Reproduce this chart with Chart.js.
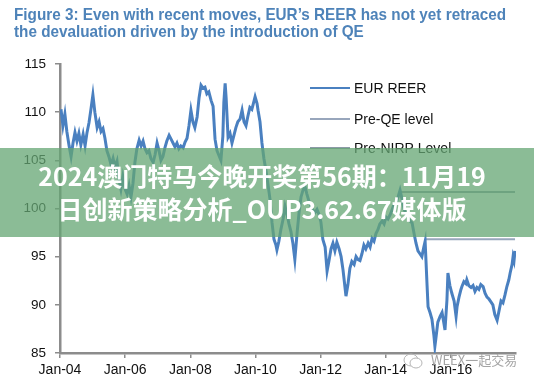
<!DOCTYPE html>
<html>
<head>
<meta charset="utf-8">
<script src="https://cdn.jsdelivr.net/npm/chart.js@4.4.1/dist/chart.umd.min.js"></script>
<style>
  html, body { margin: 0; padding: 0; background: #fff; }
  #wrap { position: relative; width: 534px; height: 386px; overflow: hidden; }
  #reerChart { position: absolute; left: 0; top: 0; }
  .title { position: absolute; left: 14px; top: 7px; color: #4e83b9; font: bold 17px "Liberation Sans", Arial, sans-serif; line-height: 16.5px; white-space: nowrap; }
  .title span { display: inline-block; transform-origin: 0 0; }
  .band { position: absolute; left: 0; top: 148px; width: 534px; height: 89px; background: rgba(100, 165, 115, 0.75);
          color: #fff; font: bold 25px "Noto Sans CJK SC", sans-serif; line-height: 33px; text-align: center;
          padding-top: 11px; box-sizing: border-box; padding-right: 10px; white-space: nowrap; }
  .mark { position: absolute; left: 403px; top: 350px; color: #a5a5a5; font: 13px "Noto Sans CJK SC", sans-serif; white-space: nowrap; }
  .mark svg { vertical-align: middle; margin-right: 8px; }
</style>
</head>
<body>
<div id="wrap">
  <canvas id="reerChart" width="534" height="386"></canvas>
  <div class="title"><span id="t1">Figure 3: Even with recent moves, EUR’s REER has not yet retraced</span><br><span id="t2">the devaluation driven by the introduction of QE</span></div>
  <div class="band">2024澳门特马今晚开奖第56期：11月19<br>日创新策略分析_OUP3.62.67媒体版</div>
  <div class="mark"><svg width="20" height="18" viewBox="0 0 20 18"><ellipse cx="8" cy="8" rx="7" ry="6" fill="none" stroke="#b5b5b5" stroke-width="1"/><ellipse cx="13" cy="11" rx="6" ry="5" fill="#fff" stroke="#b5b5b5" stroke-width="1"/></svg>WEEX一起交易</div>
</div>
<script>
// EUR REER (decimal years)
var reerYears = [
  2004.03, 2004.09, 2004.15, 2004.21, 2004.28, 2004.34, 2004.40, 2004.46, 2004.52, 2004.58, 2004.64, 2004.71, 2004.77, 2004.83, 2004.89, 2004.95,
  2005.01, 2005.07, 2005.14, 2005.20, 2005.26, 2005.32, 2005.38, 2005.44, 2005.50, 2005.57, 2005.63, 2005.69, 2005.75, 2005.81, 2005.87, 2005.93,
  2006.00, 2006.06, 2006.12, 2006.18, 2006.24, 2006.30, 2006.36, 2006.43, 2006.49, 2006.55, 2006.61, 2006.67, 2006.73, 2006.79, 2006.86, 2006.92, 2006.98,
  2007.04, 2007.10, 2007.16, 2007.22, 2007.28, 2007.35, 2007.41, 2007.47, 2007.53, 2007.59, 2007.65, 2007.71, 2007.78, 2007.84, 2007.90, 2007.96,
  2008.02, 2008.08, 2008.14, 2008.21, 2008.27, 2008.33, 2008.39, 2008.45, 2008.51, 2008.57, 2008.64, 2008.70, 2008.76, 2008.82, 2008.88, 2008.94,
  2009.00, 2009.03, 2009.07, 2009.10, 2009.16, 2009.22, 2009.28, 2009.34, 2009.40, 2009.46, 2009.53, 2009.59, 2009.65, 2009.71, 2009.77, 2009.83, 2009.89, 2009.96, 2009.99,
  2010.05, 2010.08, 2010.14, 2010.20, 2010.26, 2010.32, 2010.39, 2010.45, 2010.51, 2010.57, 2010.63, 2010.66, 2010.72, 2010.78, 2010.85, 2010.91, 2010.97,
  2011.03, 2011.09, 2011.15, 2011.21, 2011.28, 2011.34, 2011.40, 2011.46, 2011.52, 2011.58, 2011.64, 2011.71, 2011.77, 2011.83, 2011.89, 2011.95,
  2012.01, 2012.07, 2012.14, 2012.20, 2012.26, 2012.32, 2012.38, 2012.44, 2012.50, 2012.57, 2012.63, 2012.69, 2012.75, 2012.78, 2012.84, 2012.90, 2012.96,
  2013.03, 2013.09, 2013.15, 2013.21, 2013.27, 2013.33, 2013.39, 2013.46, 2013.52, 2013.58, 2013.64, 2013.70, 2013.76, 2013.82, 2013.89, 2013.95,
  2014.01, 2014.07, 2014.13, 2014.19, 2014.25, 2014.32, 2014.38, 2014.44, 2014.50, 2014.56, 2014.62, 2014.68, 2014.75, 2014.81, 2014.87, 2014.93, 2014.99,
  2015.05, 2015.11, 2015.17, 2015.21, 2015.27, 2015.30, 2015.36, 2015.42, 2015.48, 2015.51, 2015.54, 2015.60, 2015.67, 2015.73, 2015.79, 2015.82, 2015.88, 2015.91, 2015.97,
  2016.03, 2016.10, 2016.16, 2016.19, 2016.25, 2016.31, 2016.34, 2016.40, 2016.46, 2016.49, 2016.55, 2016.62, 2016.68, 2016.74, 2016.80, 2016.86, 2016.92, 2016.99,
  2017.05, 2017.11, 2017.17, 2017.23, 2017.29, 2017.35, 2017.42, 2017.48, 2017.54, 2017.60, 2017.66, 2017.72, 2017.78, 2017.82, 2017.88, 2017.91, 2017.94, 2017.97
];
var reerValues = [
  110.3, 108.6, 109.8, 108.0, 106.5, 105.4, 106.8, 107.9, 107.0, 107.8, 106.6, 107.7, 106.5, 107.9, 108.9, 110.3,
  111.8, 110.0, 108.4, 109.0, 108.0, 108.3, 107.3, 106.0, 105.4, 104.5, 105.2, 104.3, 104.9, 103.0, 102.0, 103.3,
  102.0, 101.5, 102.4, 101.2, 102.6, 104.8, 106.2, 107.1, 106.5, 107.0, 106.2, 105.8, 106.0, 105.2, 104.8, 105.6, 106.8,
  106.0, 105.0, 105.4, 106.3, 107.0, 107.6, 107.2, 106.8, 106.4, 106.8, 106.2, 106.5, 106.3, 106.9, 107.3, 108.6,
  110.2, 109.0, 108.4, 109.5, 111.5, 112.8, 112.5, 112.6, 111.9, 112.1, 111.2, 110.6, 107.2, 106.0, 105.5, 105.0,
  107.5, 111.0, 113.0, 111.5, 107.4, 107.8, 106.8, 107.6, 108.4, 109.0, 109.3, 110.2, 109.0, 108.6, 109.6, 110.5, 110.3, 111.2, 111.6,
  110.9, 110.2, 109.0, 106.8, 105.2, 104.0, 102.4, 100.9, 98.5, 96.8, 96.2, 95.7, 96.6, 97.8, 98.9, 100.2, 99.4,
  98.4, 97.6, 96.4, 94.7, 97.5, 99.6, 101.2, 101.9, 102.3, 101.5, 100.8, 100.2, 99.8, 99.6, 99.9, 99.4,
  98.6, 96.8, 96.0, 93.5, 94.6, 95.8, 96.4, 95.6, 96.5, 95.8, 95.0, 93.6, 91.8, 90.9, 92.1, 93.8, 94.5,
  94.2, 95.0, 94.7, 94.6, 95.3, 96.2, 95.8, 96.4, 96.0, 96.9, 96.6, 97.4, 97.8, 98.4, 98.7, 98.4,
  99.1, 98.9, 99.3, 99.8, 100.4, 100.6, 101.2, 101.9, 101.0, 100.0, 99.4, 99.2, 98.7, 98.5, 97.4, 96.4, 95.6,
  95.3, 95.0, 96.0, 96.6, 92.0, 89.8, 89.2, 88.5, 86.8, 85.7, 86.5, 88.2, 88.8, 89.2, 88.0, 87.4, 90.5, 93.3, 92.0,
  91.2, 90.4, 88.8, 89.8, 90.8, 91.6, 91.9, 92.4, 92.2, 92.6, 92.0, 91.8, 92.0, 91.4, 91.8, 91.6, 92.1, 91.9,
  91.2, 90.8, 90.6, 90.3, 90.0, 89.0, 88.4, 89.4, 90.4, 90.2, 91.0, 91.9, 92.6, 93.3, 94.2, 95.0, 94.6, 95.6
];

// reference levels
var preQeLevel = 96.8;
var preQeYears = [2015.21, 2017.97];
var preNirpLevel = 101.7;
var preNirpYears = [2014.44, 2017.97];

var xTickYears = [2004, 2006, 2008, 2010, 2012, 2014, 2016];
var yTickValues = [85, 90, 95, 100, 105, 110, 115];
var seriesNames = ['EUR REER', 'Pre-QE level', 'Pre-NIRP Level'];
var seriesColors = ['#4a80c0', '#98a6bc', '#8c9aa6'];

var axisFont = { family: '"Liberation Sans", Arial, sans-serif', size: 14 };

//legend drawn inside the plot like the original
var lineLegend = {
  id: 'lineLegend',
  afterDraw: function(chart) {
    var ctx = chart.ctx;
    var rows = [88, 119, 148];
    ctx.save();
    chart.data.datasets.forEach(function(ds, i) {
      ctx.strokeStyle = ds.borderColor;
      ctx.lineWidth = 2;
      ctx.beginPath();
      ctx.moveTo(310, rows[i]);
      ctx.lineTo(350, rows[i]);
      ctx.stroke();
      ctx.fillStyle = '#111';
      ctx.font = '14px "Liberation Sans", Arial, sans-serif';
      ctx.textBaseline = 'middle';
      ctx.fillText(ds.label, 354, rows[i] + 1);
    });
    ctx.restore();
  }
};

var chart = new Chart(document.getElementById('reerChart'), {
  type: 'line',
  data: {
    datasets: [
      {
        label: seriesNames[0],
        data: reerYears.map(function(y, i) { return { x: y, y: reerValues[i] }; }),
        borderColor: seriesColors[0], borderWidth: 3, pointRadius: 0, tension: 0
      },
      {
        label: seriesNames[1],
        data: preQeYears.map(function(y) { return { x: y, y: preQeLevel }; }),
        borderColor: seriesColors[1], borderWidth: 2, pointRadius: 0
      },
      {
        label: seriesNames[2],
        data: preNirpYears.map(function(y) { return { x: y, y: preNirpLevel }; }),
        borderColor: seriesColors[2], borderWidth: 2, pointRadius: 0
      }
    ]
  },
  options: {
    responsive: false,
    animation: false,
    devicePixelRatio: 1,
    layout: { padding: { left: 0, right: 18, top: 64, bottom: 0 } },
    plugins: { legend: { display: false }, tooltip: { enabled: false }, title: { display: false } },
    scales: {
      x: {
        type: 'linear', min: 2004, max: 2018,
        afterBuildTicks: function(s) { s.ticks = xTickYears.map(function(v) { return { value: v }; }); },
        afterFit: function(s) { s.height = 33; },
        ticks: {
          autoSkip: false, maxRotation: 0, padding: 4, color: '#111', font: axisFont,
          callback: function(v) { return 'Jan-' + String(v % 100).padStart(2, '0'); }
        },
        grid: { drawOnChartArea: false, tickLength: 5, color: '#8c8c8c', lineWidth: 1.5 },
        border: { color: '#8c8c8c', width: 2.5 }
      },
      y: {
        min: 85, max: 115,
        afterBuildTicks: function(s) { s.ticks = yTickValues.map(function(v) { return { value: v }; }); },
        afterFit: function(s) { s.width = 60; },
        ticks: { padding: 9, color: '#111', font: { family: axisFont.family, size: 13.5 } },
        grid: { drawOnChartArea: false, tickLength: 5, color: '#8c8c8c', lineWidth: 1.5 },
        border: { color: '#8c8c8c', width: 2.5 }
      }
    }
  },
  plugins: [lineLegend]
});

// squeeze the title to the width it has in the figure
var t1 = document.getElementById('t1');
var t2 = document.getElementById('t2');
var k = 492 / t1.getBoundingClientRect().width;
t1.style.transform = 'scaleX(' + k + ')';
t2.style.transform = 'scaleX(' + k + ')';
</script>
</body>
</html>
